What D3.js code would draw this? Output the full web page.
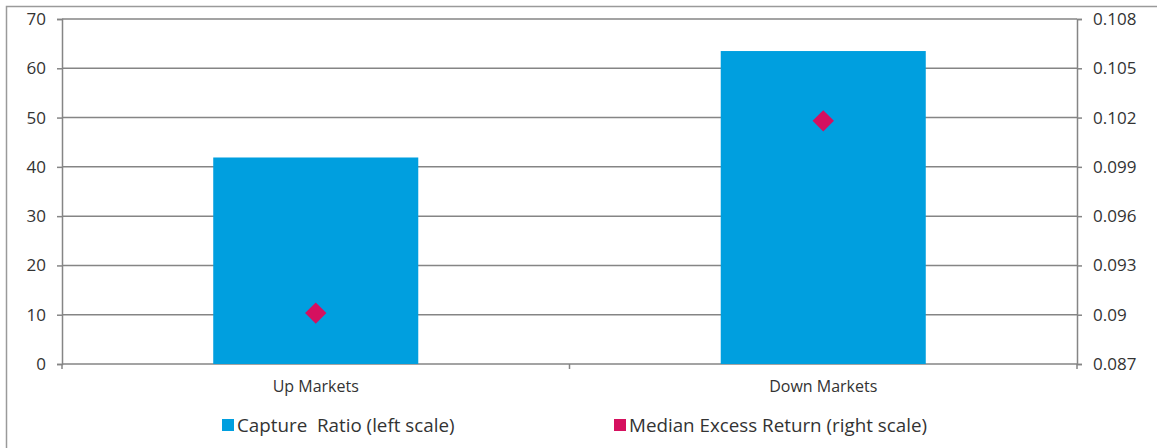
<!DOCTYPE html>
<html>
<head>
<meta charset="utf-8">
<script src="https://cdn.jsdelivr.net/npm/d3@7"></script>
<style>
  html, body { margin: 0; padding: 0; background: #fff; }
  svg { display: block; font-family: "Open Sans", "Noto Sans", sans-serif; }
  text { fill: #333; white-space: pre; }
</style>
</head>
<body>
<svg id="chart" width="1157" height="448"></svg>
<script>
// Chart data
const categories = ["Up Markets", "Down Markets"];
const captureRatio = [41.9, 63.5];
const medianExcessReturn = [0.0901, 0.1018];
const leftTicks = [0, 10, 20, 30, 40, 50, 60, 70];
const rightTicks = [0.087, 0.09, 0.093, 0.096, 0.099, 0.102, 0.105, 0.108];
const legendLabels = ["Capture  Ratio (left scale)", "Median Excess Return (right scale)"];

const barColor = "#009FDF";
const pointColor = "#D5105F";
const axisColor = "#858585";
const fontFamily = "'Open Sans', 'Noto Sans', sans-serif";

const svg = d3.select("#chart");
const margin = { left: 62, right: 80, top: 19, bottom: 84 };
const W = 1157, H = 448;
const plotW = W - margin.left - margin.right;
const plotH = H - margin.top - margin.bottom;

// Outer frame
svg.append("rect")
  .attr("x", 6.5).attr("y", 6.5)
  .attr("width", W + 10).attr("height", H + 10)
  .attr("fill", "none").attr("stroke", "#9a9a9a").attr("stroke-width", 1.5);

const g = svg.append("g").attr("transform", `translate(${margin.left},${margin.top})`);

const x = d3.scaleBand().domain(categories).range([0, plotW])
  .paddingInner(0.596).paddingOuter(0.298);
const yL = d3.scaleLinear().domain([0, 70]).range([plotH, 0]);
const yR = d3.scaleLinear().domain([0.087, 0.108]).range([plotH, 0]);

// Gridlines
g.append("g").selectAll("line").data(leftTicks).join("line")
  .attr("x1", 0).attr("x2", plotW)
  .attr("y1", d => yL(d)).attr("y2", d => yL(d))
  .attr("stroke", axisColor).attr("stroke-width", 1.5);

// Bars
g.append("g").selectAll("rect").data(categories).join("rect")
  .attr("x", d => x(d))
  .attr("width", x.bandwidth())
  .attr("y", (d, i) => yL(captureRatio[i]))
  .attr("height", (d, i) => plotH - yL(captureRatio[i]))
  .attr("fill", barColor);

// Left axis
const leftAxis = g.append("g")
  .call(d3.axisLeft(yL).tickValues(leftTicks).tickSize(5).tickPadding(11).tickFormat(d3.format("d")));
leftAxis.select(".domain").attr("stroke", axisColor).attr("stroke-width", 1.5);
leftAxis.selectAll(".tick line").attr("stroke", axisColor).attr("stroke-width", 1.5);
leftAxis.selectAll("text").attr("font-size", 17).attr("fill", "#333").attr("font-family", fontFamily);

// Right axis
const rightAxis = g.append("g").attr("transform", `translate(${plotW},0)`)
  .call(d3.axisRight(yR).tickValues(rightTicks).tickSize(5).tickPadding(11).tickFormat(d => String(+d.toFixed(3))));
rightAxis.select(".domain").attr("stroke", axisColor).attr("stroke-width", 1.5);
rightAxis.selectAll(".tick line").attr("stroke", axisColor).attr("stroke-width", 1.5);
rightAxis.selectAll("text").attr("font-size", 17).attr("fill", "#333").attr("font-family", fontFamily);

// Category axis
const catEdges = [0, plotW / 2, plotW];
g.append("g").selectAll("line").data(catEdges).join("line")
  .attr("x1", d => d).attr("x2", d => d)
  .attr("y1", plotH).attr("y2", plotH + 5)
  .attr("stroke", axisColor).attr("stroke-width", 1.5);
g.append("g").selectAll("text").data(categories).join("text")
  .attr("x", d => x(d) + x.bandwidth() / 2)
  .attr("y", plotH + 28)
  .attr("text-anchor", "middle")
  .attr("font-size", 16)
  .text(d => d);

// Diamonds
const diamond = d3.symbol().type(d3.symbolDiamond2).size(290);
g.append("g").selectAll("path").data(categories).join("path")
  .attr("d", diamond)
  .attr("transform", (d, i) => `translate(${x(d) + x.bandwidth() / 2},${yR(medianExcessReturn[i])})`)
  .attr("fill", pointColor);

// Legend
const legendX = [222, 614];
const legendColors = [barColor, pointColor];
const legend = svg.append("g").selectAll("g").data(legendLabels).join("g")
  .attr("transform", (d, i) => `translate(${legendX[i]},425)`);
legend.append("rect")
  .attr("x", 0).attr("y", -6).attr("width", 12).attr("height", 12)
  .attr("fill", (d, i) => legendColors[i]);
legend.append("text")
  .attr("x", 15).attr("y", 6.5)
  .attr("font-size", 18.8)
  .text(d => d);
</script>
</body>
</html>
